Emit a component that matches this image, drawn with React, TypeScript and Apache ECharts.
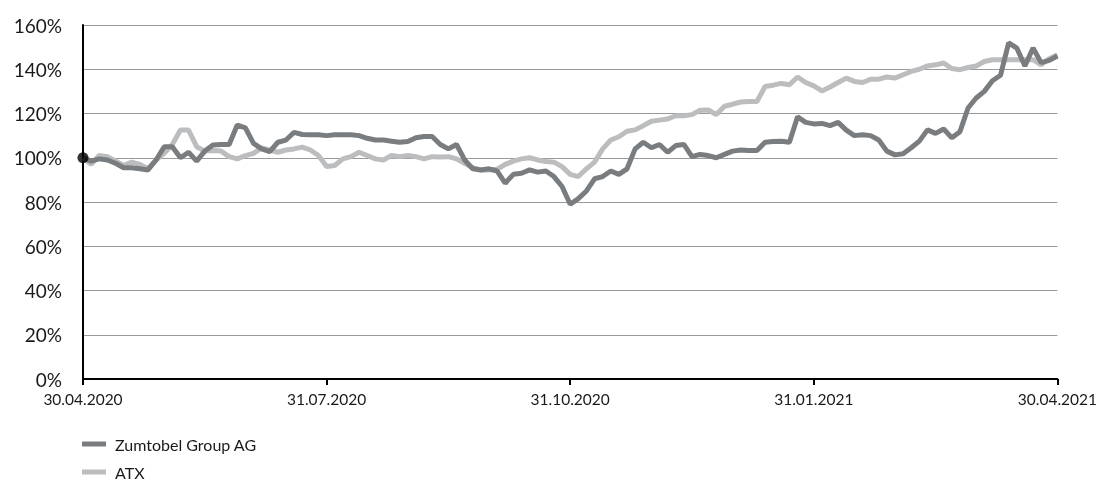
import React, { useEffect, useRef } from "react";
import * as echarts from "echarts";

const tickLabels = ["30.04.2020", "31.07.2020", "31.10.2020", "31.01.2021", "30.04.2021"];
const yTicks = [0, 20, 40, 60, 80, 100, 120, 140, 160];

const zumtobel = [
  100, 98.5, 99.5, 99, 97.5, 95.5, 95.5, 95, 94.5, 99,
  105, 105, 100, 102.5, 98.5, 103, 105.8, 106, 106, 114.8,
  113.5, 106.5, 104, 102.8, 107, 108, 111.5, 110.5, 110.4, 110.4,
  110, 110.4, 110.4, 110.4, 110, 108.8, 108, 108, 107.5, 107,
  107.3, 109, 109.6, 109.6, 106, 104, 106, 99, 95, 94.5,
  95, 94, 88.5, 92.5, 93, 94.5, 93.5, 94, 91.5, 87,
  79, 81.5, 85, 90.5, 91.5, 94, 92.5, 95, 104, 107,
  104.5, 106, 102.5, 105.5, 106, 100.5, 101.5, 101, 100, 101.5,
  103, 103.5, 103.3, 103.3, 107, 107.3, 107.5, 107, 118.5, 116,
  115.3, 115.5, 114.5, 116, 112.5, 110, 110.4, 110, 108, 103,
  101.3, 101.8, 104.5, 107.5, 112.6, 111, 113, 109, 111.8, 122.5,
  127, 130, 134.8, 137.3, 151.9, 149.6, 141.5, 149.6, 143, 144,
  146,
];

const atx = [
  100, 97, 101, 100.5, 98.5, 96.5, 98, 97, 95, 99,
  102, 106, 112.5, 112.5, 105, 103, 103.3, 103, 100.5, 99.5,
  101, 102, 104.5, 103.5, 102.5, 103.5, 104, 104.8, 103.5, 101,
  96, 96.5, 99.5, 100.5, 102.5, 101, 99.5, 99, 101, 100.5,
  101, 100.5, 99.5, 100.5, 100.3, 100.5, 99.5, 97.5, 95.5, 94.5,
  94.5, 94.8, 97, 98.5, 99.5, 100, 99, 98.3, 98, 96,
  92.5, 91.5, 95, 98, 104, 108, 109.5, 112, 112.6, 114.5,
  116.5, 117, 117.5, 119, 119, 119.5, 121.5, 121.6, 119.5, 123.3,
  124.2, 125.2, 125.4, 125.4, 132.2, 132.8, 133.6, 133, 136.5, 134,
  132.5, 130.2, 132, 134, 136, 134.5, 134, 135.5, 135.5, 136.5,
  136, 137.5, 139, 140, 141.5, 142, 142.8, 140.3, 139.8, 140.8,
  141.5, 143.5, 144.3, 144.3, 144.3, 144.3, 144.3, 144.3, 142, 144.8,
  146.6,
];

const startPoint = [0, 100];

const DARK = "#797d80";
const LIGHT = "#bcbdbf";
const FONT = "Lato, 'Open Sans', sans-serif";

export default function App() {
  const ref = useRef<HTMLDivElement>(null);

  useEffect(() => {
    if (!ref.current) return;
    const chart = echarts.init(ref.current, undefined, { renderer: "svg" });
    const last = zumtobel.length - 1;
    const step = last / (tickLabels.length - 1);
    chart.setOption({
      animation: false,
      textStyle: { fontFamily: FONT },
      grid: { left: 83, right: 36, top: 25, bottom: 104, containLabel: false },
      legend: {
        orient: "vertical",
        left: 82,
        top: 436,
        height: 120,
        padding: 0,
        icon: "rect",
        itemWidth: 24,
        itemHeight: 5,
        itemGap: 12,
        data: ["Zumtobel Group AG", "ATX"],
        textStyle: { fontFamily: FONT, fontSize: 16, color: "#1a1a1a", lineHeight: 16, padding: [0, 0, 0, 4] },
      },
      xAxis: {
        type: "value",
        min: 0,
        max: last,
        interval: step,
        axisLine: { show: true, onZero: false, lineStyle: { color: "#000", width: 2 } },
        axisTick: { show: true, length: 6, lineStyle: { color: "#000", width: 2 } },
        splitLine: { show: false },
        axisLabel: {
          margin: 12,
          fontSize: 15.5,
          color: "#1a1a1a",
          fontFamily: FONT,
          formatter: (v: number) => tickLabels[Math.round(v / step)] ?? "",
        },
      },
      yAxis: {
        type: "value",
        min: yTicks[0],
        max: yTicks[yTicks.length - 1],
        interval: 20,
        axisLine: { show: true, lineStyle: { color: "#000", width: 2 } },
        axisTick: { show: false },
        splitLine: { show: true, lineStyle: { color: "#9a9a9a", width: 1 } },
        axisLabel: {
          margin: 21,
          fontSize: 19,
          color: "#1a1a1a",
          fontFamily: FONT,
          formatter: (v: number) => `${v}%`,
        },
      },
      series: [
        {
          name: "ATX",
          type: "line",
          data: atx.map((v, i) => [i, v]),
          showSymbol: false,
          symbol: "none",
          lineStyle: { color: LIGHT, width: 5 },
          itemStyle: { color: LIGHT },
          z: 2,
        },
        {
          name: "Zumtobel Group AG",
          type: "line",
          data: zumtobel.map((v, i) => [i, v]),
          showSymbol: false,
          symbol: "none",
          lineStyle: { color: DARK, width: 5 },
          itemStyle: { color: DARK },
          z: 3,
        },
        {
          name: "start",
          type: "scatter",
          data: [startPoint],
          symbolSize: 11,
          itemStyle: { color: "#000" },
          z: 5,
        },
      ],
    });
    return () => chart.dispose();
  }, []);

  return (
    <div
      ref={ref}
      style={{ position: "fixed", left: 0, top: 0, width: 1100, height: 483 }}
    />
  );
}
